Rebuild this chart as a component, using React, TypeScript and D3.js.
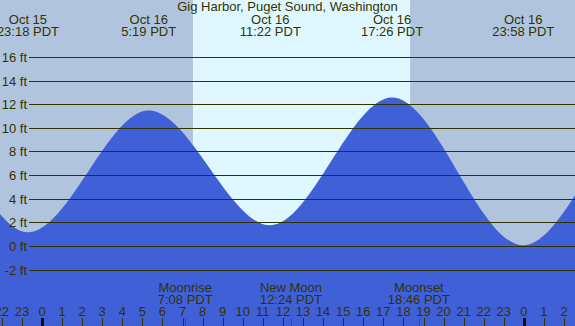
import React from 'react';
import * as d3 from 'd3';

// tide extremes (local PDT); the first two and last two lie outside the view
const tideTimes = ['2020-10-15 11:05', '2020-10-15 17:25', '2020-10-15 23:18', '2020-10-16 05:19', '2020-10-16 11:22', '2020-10-16 17:26', '2020-10-16 23:58', '2020-10-17 06:10', '2020-10-17 12:20'];
const tideHeights = [2.4, 12.2, 1.2, 11.5, 1.8, 12.6, 0.1, 11.4, 2.2];
const labelledTides = [2, 3, 4, 5, 6];

const moonNames = ['Moonrise', 'New Moon', 'Moonset'];
const moonTimes = ['2020-10-16 07:08', '2020-10-16 12:24', '2020-10-16 18:46'];

const sunrise = '2020-10-16 07:31';
const sunset = '2020-10-16 18:20';

const feetTicks = [-2, 0, 2, 4, 6, 8, 10, 12, 14, 16];
const viewStart = '2020-10-15 21:54:30';
const viewEnd = '2020-10-17 02:32:40';

const W = 575;
const H = 326;
const ink = '#333300';
const font = '"Liberation Sans", Arial, sans-serif';

const parse = d3.utcParse('%Y-%m-%d %H:%M');
const parseS = d3.utcParse('%Y-%m-%d %H:%M:%S');
const fmtDay = d3.utcFormat('%b %d');
const fmtTime = d3.utcFormat('%-H:%M PDT');

const App = () => {
    const x = d3.scaleUtc()
        .domain([parseS(viewStart) as Date, parseS(viewEnd) as Date])
        .range([0, W]);
    const y = d3.scaleLinear().domain([-2, 16]).range([270.2, 57.4]);

    const tides = tideTimes.map((t, i) => ({ t: parse(t) as Date, v: tideHeights[i] }));
    const area = d3.area<{ t: Date; v: number }>()
        .x(d => x(d.t))
        .y0(H)
        .y1(d => y(d.v))
        .curve(d3.curveMonotoneX);

    const hours = x.ticks(d3.utcHour.every(1) as d3.TimeInterval);
    const xr = x(parse(sunrise) as Date);
    const xs = x(parse(sunset) as Date);

    return (
        <div style={{ position: 'fixed', left: 0, top: 0 }}>
            <svg width={W} height={H} style={{ display: 'block' }} fontFamily={font} fontSize={13}>
                <rect x={0} y={0} width={W} height={H} fill="#b0c4de" />
                <rect x={xr} y={0} width={xs - xr} height={H} fill="#dff8ff" />
                <path d={area(tides) || ''} fill="#4060d8" />

                {feetTicks.map(f => {
                    const yy = Math.floor(y(f)) + 0.5;
                    return (
                        <g key={f}>
                            <line x1={29} x2={W} y1={yy} y2={yy} stroke={ink} strokeWidth={1} />
                            <text x={27} y={yy} dy="0.35em" textAnchor="end" fill={ink}>{f} ft</text>
                        </g>
                    );
                })}

                <text x={W / 2} y={11} textAnchor="middle" fill={ink}>Gig Harbor, Puget Sound, Washington</text>

                {labelledTides.map(i => (
                    <g key={i} fill={ink} textAnchor="middle">
                        <text x={x(tides[i].t)} y={24}>{fmtDay(tides[i].t)}</text>
                        <text x={x(tides[i].t)} y={36}>{fmtTime(tides[i].t)}</text>
                    </g>
                ))}

                {moonNames.map((name, i) => {
                    const t = parse(moonTimes[i]) as Date;
                    const mx = x(t);
                    return (
                        <g key={name}>
                            <text x={mx} y={292} textAnchor="middle" fill={ink}>{name}</text>
                            <text x={mx} y={304} textAnchor="middle" fill={ink}>{fmtTime(t)}</text>
                        </g>
                    );
                })}

                {hours.map(h => {
                    const hx = Math.round(x(h)) + 0.5;
                    const midnight = h.getUTCHours() === 0;
                    return (
                        <g key={+h}>
                            <text x={x(h)} y={316} textAnchor="middle" fill={ink}>{h.getUTCHours()}</text>
                            <line x1={hx} x2={hx} y1={318} y2={H} stroke={midnight ? '#111100' : ink} strokeWidth={midnight ? 3 : 1} />
                        </g>
                    );
                })}

                {moonTimes.map(m => {
                    const mx = Math.round(x(parse(m) as Date)) + 0.5;
                    return <line key={m} x1={mx} x2={mx} y1={318} y2={H} stroke="#ff0000" strokeWidth={1} />;
                })}
            </svg>
        </div>
    );
};

export default App;
